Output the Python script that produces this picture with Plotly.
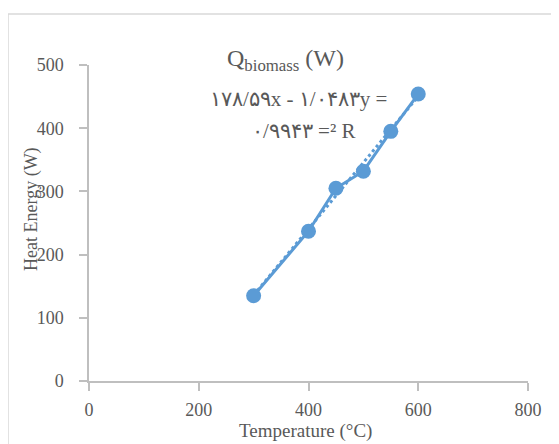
import plotly.graph_objects as go

temperature = [300, 400, 450, 500, 550, 600]
heat_energy = [135, 237, 305, 332, 395, 454]
slope = 1.0483
intercept = -178.59
x_ticks = [0, 200, 400, 600, 800]
y_ticks = [0, 100, 200, 300, 400, 500]

# page has an 8px body margin; figure is sized/positioned to compensate
OFF = 8
W, H = 559 - OFF, 444 - OFF
ML, MR, MT, MB = 89 - OFF, 31, 65 - OFF, 63
PW, PH = W - ML - MR, H - MT - MB

def px(x):  # page pixel -> paper
    return (x - OFF - ML) / PW

def py(y):
    return (H - MB - (y - OFF)) / PH

BLUE = "#5B9BD5"
TXT = "#595959"
FONT = "Liberation Serif"

trend_x = [temperature[0], temperature[-1]]
trend_y = [slope * t + intercept for t in trend_x]

fig = go.Figure()
fig.add_trace(go.Scatter(x=trend_x, y=trend_y, mode="lines",
                         line=dict(color=BLUE, width=3, dash="dot"),
                         showlegend=False, hoverinfo="skip"))
fig.add_trace(go.Scatter(x=temperature, y=heat_energy, mode="lines+markers",
                         line=dict(color=BLUE, width=3),
                         marker=dict(color=BLUE, size=15),
                         showlegend=False))

def label(text, x, y, size, angle=0):
    return dict(text=text, xref="paper", yref="paper", x=px(x), y=py(y),
                xanchor="center", yanchor="middle", showarrow=False,
                textangle=angle, font=dict(size=size, color=TXT))

fig.update_layout(
    width=W, height=H,
    margin=dict(l=ML, r=MR, t=MT, b=MB),
    paper_bgcolor="white", plot_bgcolor="white",
    font=dict(family=FONT, color=TXT, size=17),
    xaxis=dict(range=[0, 800], tickvals=x_ticks, showgrid=False, zeroline=False,
               showline=True, linecolor="#BFBFBF", linewidth=1.5,
               ticks="outside", ticklen=8, tickcolor="#BFBFBF", tickwidth=1.5,
               ticklabelstandoff=4, tickfont=dict(size=18, color=TXT)),
    yaxis=dict(range=[0, 500], tickvals=y_ticks, showgrid=False, zeroline=False,
               showline=True, linecolor="#BFBFBF", linewidth=1.5,
               ticks="outside", ticklen=8, tickcolor="#BFBFBF", tickwidth=1.5,
               ticklabelstandoff=12, tickfont=dict(size=18, color=TXT)),
    shapes=[dict(type="rect", xref="paper", yref="paper",
                 x0=px(8), x1=px(600), y0=py(500), y1=py(14),
                 line=dict(color="#D9D9D9", width=1.5), fillcolor="rgba(0,0,0,0)",
                 layer="below")],
    annotations=[
        label("Q<sub>biomass</sub> (W)", 285, 60, 24),
        label("۱۷۸/۵۹x - ۱/۰۴۸۳y =", 298, 99, 21),
        label("۰/۹۹۴۳ =² R", 303, 131, 21),
        label("Heat Energy (W)", 31, 209, 18, -90),
        label("Temperature (°C)", 305, 431, 19),
    ],
)

fig.write_html("out.html")
